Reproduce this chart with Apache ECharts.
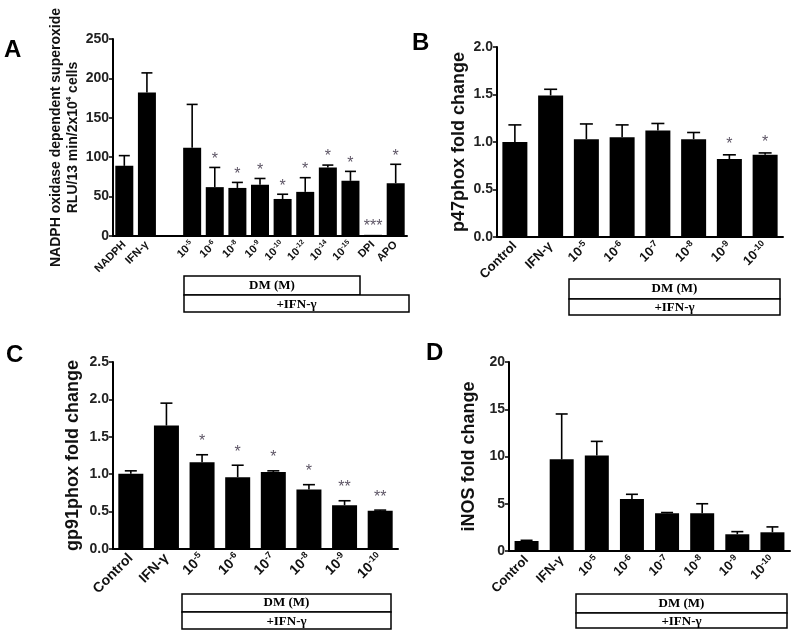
<!DOCTYPE html>
<html><head><meta charset="utf-8">
<script src="https://cdn.jsdelivr.net/npm/echarts@6/dist/echarts.min.js"></script>
<style>html,body{margin:0;padding:0;background:#fff}#c{width:800px;height:635px}</style>
</head><body><div id="c"></div>
<script>
// ---------- data ----------
const catsA = ['NADPH','IFN-γ','','10^-5','10^-6','10^-8','10^-9','10^-10','10^-12','10^-14','10^-15','DPI','APO'];
const valsA = [89,182,null,112,62,61,65,47,56,87,70,1.5,67];
const errA  = [102,207,null,167,87,68,73,53,74,90,82,1.5,91];
const sigA  = ['','','','','*','*','*','*','*','*','*','***','*'];
const ticksA = [0,50,100,150,200,250];

const catsBCD = ['Control','IFN-γ','10^-5','10^-6','10^-7','10^-8','10^-9','10^-10'];
const valsB = [1.0,1.49,1.03,1.05,1.12,1.03,0.82,0.865];
const errB  = [1.18,1.555,1.19,1.18,1.195,1.10,0.865,0.885];
const sigB  = ['','','','','','','*','*'];
const ticksB = [0,0.5,1.0,1.5,2.0];

const valsC = [1.005,1.65,1.16,0.96,1.03,0.795,0.585,0.51];
const errC  = [1.045,1.95,1.26,1.12,1.045,0.86,0.645,0.52];
const sigC  = ['','','*','*','*','*','**','**'];
const ticksC = [0,0.5,1.0,1.5,2.0,2.5];

const valsD = [1.06,9.7,10.1,5.5,4.0,4.0,1.77,1.98];
const errD  = [1.13,14.5,11.6,6.0,4.07,5.0,2.05,2.55];
const sigD  = ['','','','','','','',''];
const ticksD = [0,5,10,15,20];

// ---------- helpers ----------
const SANS = "'Liberation Sans', Arial, sans-serif";
const SERIF = "'Liberation Serif', 'Times New Roman', serif";

function catFormatter(v){
  if (v.indexOf('10^') === 0) return '{b|10}{s|' + v.slice(3) + '}';
  return '{b|' + v + '}';
}
function xAxis(gi, cats, fs, ss){
  return {
    type:'category', gridIndex:gi, data:cats,
    axisLine:{lineStyle:{color:'#000', width:2}},
    axisTick:{alignWithLabel:true, length:4, lineStyle:{color:'#000', width:1.5}},
    axisLabel:{rotate:45, margin:7, interval:0, formatter:catFormatter,
      rich:{ b:{fontSize:fs, fontWeight:'bold', fontFamily:SANS, color:'#111', lineHeight:fs+2},
             s:{fontSize:ss, fontWeight:'bold', fontFamily:SANS, color:'#111', verticalAlign:'top', lineHeight:fs+2, padding:[0,0,6,0]} }}
  };
}
function yAxis(gi, ticks, dec, name, gap, nameFs){
  return {
    type:'value', gridIndex:gi, min:ticks[0], max:ticks[ticks.length-1], interval:ticks[1]-ticks[0],
    splitLine:{show:false},
    axisLine:{show:true, lineStyle:{color:'#000', width:2}},
    axisTick:{show:true, length:4, lineStyle:{color:'#000', width:1.5}},
    axisLabel:{fontSize:14, fontWeight:'bold', fontFamily:SANS, color:'#222', margin:4,
      formatter: v => v.toFixed(dec)},
    name:name, nameLocation:'middle', nameGap:gap, nameRotate:90,
    nameTextStyle:{fontSize:nameFs, fontWeight:'bold', fontFamily:SANS, color:'#111', lineHeight:nameFs+3,
      rich:{ n:{fontSize:nameFs, fontWeight:'bold', fontFamily:SANS, color:'#111'},
             sup:{fontSize:8, fontWeight:'bold', fontFamily:SANS, color:'#111', verticalAlign:'top', padding:[0,0,5,0]} }}
  };
}
function barSeries(gi, vals, bw){
  return {type:'bar', xAxisIndex:gi, yAxisIndex:gi, data:vals, barWidth:bw,
    itemStyle:{color:'#000'}, silent:true, z:2};
}
function errSeries(gi, vals, errs, sig, cap, starGap, starFs){
  const data = [];
  vals.forEach((v,i)=>{ if (v !== null) data.push([i, v, errs[i]]); });
  return {type:'custom', xAxisIndex:gi, yAxisIndex:gi, data:data, z:3, silent:true,
    encode:{x:0, y:[1,2]},
    renderItem:function(params, api){
      const i = api.value(0), v = api.value(1), e = api.value(2);
      const p0 = api.coord([i, v]), p1 = api.coord([i, e]);
      const ch = [];
      if (e > v) {
        ch.push({type:'line', shape:{x1:p0[0], y1:p0[1], x2:p1[0], y2:p1[1]}, style:{stroke:'#000', lineWidth:1.6}});
        ch.push({type:'line', shape:{x1:p1[0]-cap/2, y1:p1[1], x2:p1[0]+cap/2, y2:p1[1]}, style:{stroke:'#000', lineWidth:1.6}});
      }
      const s = sig[i];
      if (s) ch.push({type:'text', style:{text:s, x:p1[0], y:p1[1]-starGap, align:'center', verticalAlign:'middle',
        font:starFs + 'px ' + SANS, fill:'#5e5666'}});
      return {type:'group', children:ch};
    }};
}
function boxes(x1, x2a, x2b, y1, y2, y3){
  return [
    {type:'rect', shape:{x:x1, y:y1, width:x2a-x1, height:y2-y1}, style:{fill:'#fff', stroke:'#000', lineWidth:1.5}},
    {type:'text', x:(x1+x2a)/2, y:(y1+y2)/2, style:{text:'DM (M)', font:'bold 13px ' + SERIF, fill:'#000', align:'center', verticalAlign:'middle'}},
    {type:'rect', shape:{x:x1, y:y2, width:x2b-x1, height:y3-y2}, style:{fill:'#fff', stroke:'#000', lineWidth:1.5}},
    {type:'text', x:(x1+x2b)/2, y:(y2+y3)/2+1, style:{text:'+IFN-γ', font:'bold 13px ' + SERIF, fill:'#000', align:'center', verticalAlign:'middle'}}
  ];
}
function letter(t, x, y){
  return {type:'text', x:x, y:y, style:{text:t, font:'bold 24px ' + SANS, fill:'#000', align:'left', verticalAlign:'top'}};
}

const chart = echarts.init(document.getElementById('c'));
chart.setOption({
  animation:false,
  backgroundColor:'#fff',
  grid:[
    {left:113, top:39, width:294, height:197, outerBoundsMode:'none'},
    {left:497, top:47, width:286, height:190, outerBoundsMode:'none'},
    {left:113, top:362, width:285, height:187, outerBoundsMode:'none'},
    {left:509, top:362, width:281, height:189, outerBoundsMode:'none'}
  ],
  xAxis:[ xAxis(0, catsA, 11, 7), xAxis(1, catsBCD, 13, 9), xAxis(2, catsBCD, 14, 9), xAxis(3, catsBCD, 13, 9) ],
  yAxis:[
    yAxis(0, ticksA, 0, '{n|NADPH oxidase dependent superoxide}\n{n|RLU/13 min/2x10}{sup|4}{n| cells}', 31, 14),
    yAxis(1, ticksB, 1, 'p47phox fold change', 23, 18),
    yAxis(2, ticksC, 1, 'gp91phox fold change', 29, 18),
    yAxis(3, ticksD, 0, 'iNOS fold change', 29, 18)
  ],
  series:[
    barSeries(0, valsA, 18), errSeries(0, valsA, errA, sigA, 11, 8, 16),
    barSeries(1, valsB, 25), errSeries(1, valsB, errB, sigB, 13, 10, 16),
    barSeries(2, valsC, 25), errSeries(2, valsC, errC, sigC, 12, 13, 16),
    barSeries(3, valsD, 24), errSeries(3, valsD, errD, sigD, 12, 10, 16)
  ],
  graphic:[
    letter('A', 4, 38), letter('B', 412, 31), letter('C', 6, 343), letter('D', 426, 341),
    ...boxes(184, 360, 409, 276, 295, 312),
    ...boxes(569, 780, 780, 279, 299, 315),
    ...boxes(182, 391, 391, 594, 612, 629),
    ...boxes(576, 787, 787, 594, 613, 628)
  ]
});
</script></body></html>
